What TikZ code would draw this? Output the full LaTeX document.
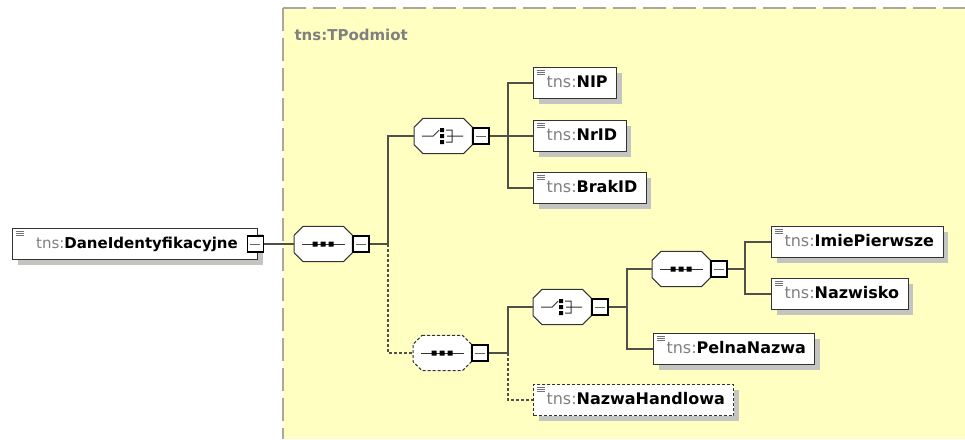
\documentclass[tikz,border=0pt]{standalone}
\usepackage{fontspec}
\setmainfont{DejaVu Sans}
\usetikzlibrary{shadows,positioning}
\definecolor{bgyellow}{HTML}{FFFFC2}
\definecolor{framegray}{HTML}{A8A8A0}
\definecolor{linegray}{HTML}{50504A}
\definecolor{nsgray}{HTML}{808080}
\definecolor{shadowgray}{HTML}{C4C4C0}
\newcommand{\tnsname}[1]{\textcolor{nsgray}{tns:}\textbf{#1}}
% octagon outline round a compositor node
\newcommand{\octpath}[1]{([xshift=9pt]#1.north west) -- ([xshift=-9pt]#1.north east) -- ([yshift=-9pt]#1.north east) -- ([yshift=9pt]#1.south east) -- ([xshift=-9pt]#1.south east) -- ([xshift=9pt]#1.south west) -- ([yshift=9pt]#1.south west) -- ([yshift=-9pt]#1.north west) -- cycle}
\tikzset{
    elem/.style = {draw=black!80, fill=white, rectangle, line width=1pt, minimum height=31pt, inner xsep=9pt, text height=12pt, text depth=3pt, font=\fontsize{16}{19}\selectfont, general shadow={fill=shadowgray, shadow xshift=5pt, shadow yshift=-5pt}, execute at begin node=\hspace{4pt}, path picture={\draw[solid, line width=1pt, black!55] \foreach \k in {3,5,7} {([shift={(3pt,-\k pt)}]path picture bounding box.north west) -- ++(8pt,0pt)};}},
    opt-elem/.style = {elem, dash pattern=on 3pt off 2pt},
    compositor/.style = {rectangle, minimum width=58pt, minimum height=35pt, inner sep=0pt},
    oct-line/.style = {draw=black!80, fill=white, line width=1pt},
    oct-shadow/.style = {fill=shadowgray, shift={(5,5)}},
    sym/.style = {line width=1pt, draw=black!80},
    minusbox/.style = {rectangle, draw=black, fill=white, line width=1.2pt, minimum size=16pt, inner sep=0pt, path picture={\draw[solid, line width=0.8pt, black!60] ([xshift=3pt]path picture bounding box.west) -- ([xshift=-3pt]path picture bounding box.east);}},
    conn/.style = {draw=linegray, line width=1.5pt},
    opt-conn/.style = {conn, dash pattern=on 3pt off 2pt},
}

\begin{document}
\begin{tikzpicture}[x=1pt, y=-1pt]
\useasboundingbox (0,0) rectangle (965,439);

% complex type area
\fill[bgyellow] (283,8) rectangle (965,439);
\draw[framegray, line width=1.8pt, dash pattern=on 23pt off 7pt] (283,8) -- (965,8);
\draw[framegray, line width=1.8pt, dash pattern=on 23pt off 7pt] (283,8) -- (283,439);
\node[anchor=west, font=\fontsize{15}{18}\selectfont\bfseries, text=nsgray] (tpodmiot) at (291,35) {tns:TPodmiot};

% root
\node[elem, anchor=west, minimum width=245pt, font=\fontsize{15}{18}\selectfont] (daneId) at (12,244) {\tnsname{DaneIdentyfikacyjne}};
\node[minusbox, left=-6pt of daneId.east] (daneIdM) {};

% compositors
\node[compositor, anchor=west] (seqA) at (294,244) {};
\node[compositor, anchor=west] (choiceA) at (414,136) {};
\node[compositor, anchor=west] (seqB) at (413,353) {};
\node[compositor, anchor=west] (choiceB) at (533,307) {};
\node[compositor, anchor=west] (seqC) at (652,269) {};
\foreach \n in {seqA, choiceA, choiceB, seqC} {
    \fill[oct-shadow] \octpath{\n};
    \draw[oct-line] \octpath{\n};
}
\fill[oct-shadow] \octpath{seqB};
\draw[oct-line, dash pattern=on 3pt off 2pt] \octpath{seqB};

% sequence and choice signs
\foreach \n in {seqA, seqB, seqC} {
    \begin{scope}[shift={(\n.center)}]
        \draw[sym] (-21,0) -- (22,0);
        \fill[black] (-10.5,-2.5) rectangle (-5.5,2.5) (-2.5,-2.5) rectangle (2.5,2.5) (5.5,-2.5) rectangle (10.5,2.5);
    \end{scope}
}
\foreach \n in {choiceA, choiceB} {
    \begin{scope}[shift={(\n.center)}]
        \draw[sym] (-21,0) -- (-10,0) -- (-4,-6) (3,-6) -- (9,-6) -- (9,6) -- (3,6) (4,0) -- (20,0);
        \fill[black] (-3,-8) rectangle (1,-4) (-3,-2) rectangle (1,2) (-3,4) rectangle (1,8);
    \end{scope}
}

\node[minusbox, right=0pt of seqA] (seqAM) {};
\node[minusbox, right=0pt of choiceA] (choiceAM) {};
\node[minusbox, right=0pt of seqB] (seqBM) {};
\node[minusbox, right=0pt of choiceB] (choiceBM) {};
\node[minusbox, right=0pt of seqC] (seqCM) {};

% elements
\node[elem, anchor=west] (nip) at (533,83) {\tnsname{NIP}};
\node[elem, anchor=west] (nrId) at (533,136) {\tnsname{NrID}};
\node[elem, anchor=west] (brakId) at (533,188) {\tnsname{BrakID}};
\node[elem, anchor=west] (imie) at (771,242) {\tnsname{ImiePierwsze}};
\node[elem, anchor=west] (nazwisko) at (771,294) {\tnsname{Nazwisko}};
\node[elem, anchor=west] (pelna) at (653,349) {\tnsname{PelnaNazwa}};
\node[opt-elem, anchor=west] (nazwaH) at (533,400) {\tnsname{NazwaHandlowa}};

% junctions
\coordinate (jA) at (388,244);
\coordinate (jB) at (508,136);
\coordinate (jC) at (508,353);
\coordinate (jD) at (627,307);
\coordinate (jE) at (745,269);

% connectors
\draw[conn] (daneIdM.east) -- (seqA.west);
\draw[conn] (seqAM.east) -- (jA) |- (choiceA.west);
\draw[opt-conn] (jA) |- (seqB.west);
\draw[conn] (choiceAM.east) -- (jB) |- (nip.west);
\draw[conn] (jB) -- (nrId.west);
\draw[conn] (jB) |- (brakId.west);
\draw[conn] (seqBM.east) -- (jC) |- (choiceB.west);
\draw[opt-conn] (jC) |- (nazwaH.west);
\draw[conn] (choiceBM.east) -- (jD) |- (seqC.west);
\draw[conn] (jD) |- (pelna.west);
\draw[conn] (seqCM.east) -- (jE) |- (imie.west);
\draw[conn] (jE) |- (nazwisko.west);
\end{tikzpicture}
\end{document}
